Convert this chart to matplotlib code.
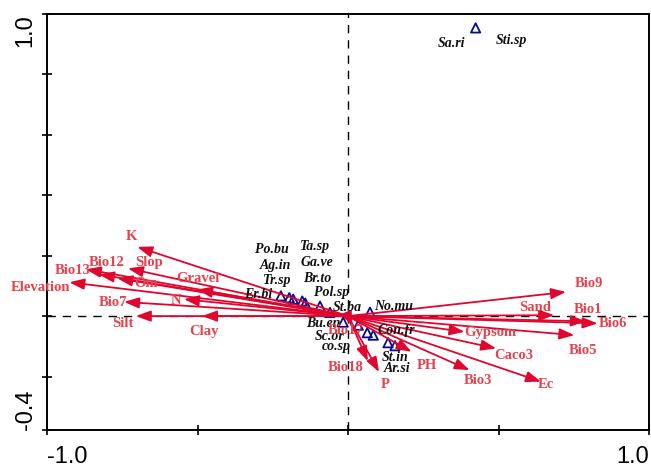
import matplotlib.pyplot as plt

# environmental variables: arrow tips (axis 1, axis 2)
env_names = ['K', 'Bio12', 'Slop', 'Bio13', 'Om', 'Elevation', 'Gravel', 'N',
             'Bio7', 'Silt', 'Clay', 'Bio9', 'Sand', 'Bio1', 'Bio6', 'Gypsom',
             'Bio5', 'Caco3', 'PH', 'Bio3', 'Ec', 'Bio18', 'P', 'Bio17']
env_x = [-0.700, -0.827, -0.731, -0.871, -0.766, -0.926, -0.501, -0.545,
         -0.744, -0.705, -0.485, 0.724, 0.685, 0.790, 0.829, 0.387,
         0.752, 0.492, 0.211, 0.404, 0.641, 0.066, 0.103, 0.015]
env_y = [0.229, 0.138, 0.158, 0.155, 0.125, 0.112, 0.088, 0.056,
         0.047, 0.000, 0.000, 0.080, 0.003, -0.017, -0.024, -0.052,
         -0.063, -0.107, -0.118, -0.179, -0.217, -0.149, -0.185, -0.035]

# species scores
sp_x = [0.424, -0.223, -0.195, -0.182, -0.152, -0.142, -0.093, -0.060,
        -0.016, 0.034, 0.073, 0.064, 0.084, 0.133, 0.156]
sp_y = [0.954, 0.067, 0.061, 0.056, 0.050, 0.043, 0.033, 0.012,
        -0.020, -0.030, 0.013, -0.055, -0.063, -0.088, -0.098]
sp_names = ['Sa.ri', 'Sti.sp', 'Po.bu', 'Ag.in', 'Tr.sp', 'Er.bi', 'Ta.sp',
            'Ga.ve', 'Br.to', 'Pol.sp', 'St.ba', 'No.mu', 'Bu.en', 'Sc.or',
            'co.sp', 'Con.fr', 'St.in', 'Ar.si']

# label placement (data coords)
env_lab_pos = [(-0.719, 0.265), (-0.801, 0.179), (-0.662, 0.179), (-0.914, 0.152),
               (-0.672, 0.109), (-1.020, 0.096), (-0.500, 0.126), (-0.573, 0.053),
               (-0.781, 0.046), (-0.748, -0.023), (-0.477, -0.050), (0.801, 0.109),
               (0.623, 0.030), (0.798, 0.023), (0.881, -0.023), (0.474, -0.053),
               (0.781, -0.113), (0.550, -0.129), (0.262, -0.162), (0.430, -0.212),
               (0.656, -0.228), (-0.007, -0.169), (0.123, -0.228), (-0.007, -0.046)]
sp_lab_pos = [(0.344, 0.904), (0.543, 0.911), (-0.252, 0.222), (-0.242, 0.169),
              (-0.235, 0.119), (-0.298, 0.073), (-0.109, 0.232), (-0.103, 0.179),
              (-0.103, 0.126), (-0.056, 0.079), (-0.003, 0.030), (0.152, 0.033),
              (-0.083, -0.026), (-0.060, -0.066), (-0.040, -0.099), (0.162, -0.046),
              (0.156, -0.136), (0.162, -0.175)]

arrow_col = '#e0062e'
text_col = '#e8404c'
blue = '#0a0a8c'

fig = plt.figure(figsize=(6.51, 4.70), dpi=100)
ax = fig.add_axes([47 / 651, 40 / 470, 602 / 651, 416 / 470])
ax.set_xlim(-1.0, 1.0)
ax.set_ylim(-0.377, 1.0)

ax.axhline(0, color='black', lw=1, ls=(0, (6, 5)), zorder=1)
ax.axvline(0, color='black', lw=1, ls=(0, (6, 5)), zorder=1)

ax.scatter(sp_x, sp_y, marker='^', s=45, facecolors='none', edgecolors=blue,
           linewidths=1.3, zorder=2)

for x, y in zip(env_x, env_y):
    ax.annotate('', xy=(x, y), xytext=(0, 0),
                arrowprops=dict(arrowstyle='-|>,head_length=0.9,head_width=0.33',
                                color=arrow_col, lw=1.3, shrinkA=0, shrinkB=0),
                zorder=3)

for name, (lx, ly) in zip(sp_names, sp_lab_pos):
    ax.text(lx, ly, name, ha='center', va='center', fontsize=10,
            family='Liberation Serif', weight='bold', style='italic',
            color='#111111', zorder=4)

for name, (lx, ly) in zip(env_names, env_lab_pos):
    ax.text(lx, ly, name, ha='center', va='center', fontsize=10.5,
            family='Liberation Serif', weight='bold', color=text_col,
            zorder=5, clip_on=False)

ax.set_xticks([-1.0, -0.5, 0.0, 0.5, 1.0])
ax.set_xticklabels(['-1.0', '', '', '', '1.0'], family='Liberation Sans', fontsize=17)
xl = ax.get_xticklabels()
xl[0].set_ha('left')
xl[-1].set_ha('right')

ax.set_yticks([-0.377, -0.2, 0.0, 0.2, 0.4, 0.6, 0.8, 1.0])
ax.set_yticklabels(['-0.4', '', '', '', '', '', '', '1.0'], family='Liberation Sans',
                   fontsize=17, rotation=90)
yl = ax.get_yticklabels()
yl[0].set_va('bottom')
yl[-1].set_va('top')

ax.tick_params(direction='inout', length=7, width=1.2, top=False, right=False)
ax.tick_params(axis='x', pad=8)
ax.tick_params(axis='y', pad=4)
for s in ax.spines.values():
    s.set_linewidth(1.4)

fig.savefig('out.png', dpi=100)
